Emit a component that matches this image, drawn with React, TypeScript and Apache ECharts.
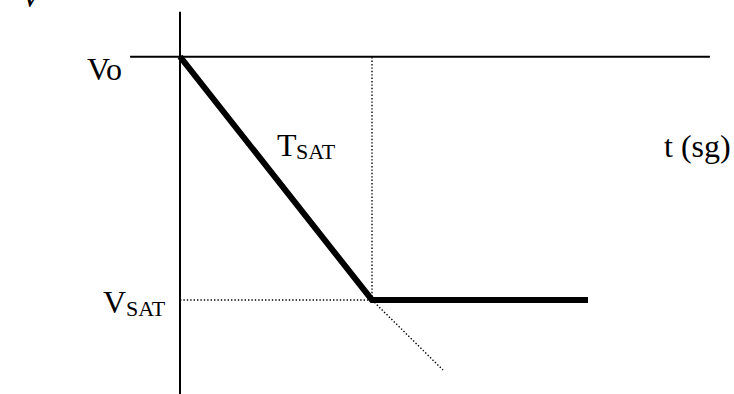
import React, { useEffect, useRef } from "react";
import * as echarts from "echarts";

// Time axis in units of T_SAT, voltage axis normalised so that V_SAT = 0 and Vo = 1
const T_SAT = 1;
const T_END = 2.125;
const V_O = 1;
const V_SAT = 0;

// thick curve: linear discharge then saturation plateau
const curveT = [0, T_SAT, T_END];
const curveV = [V_O, V_SAT, V_SAT];

// dotted extension of the ramp past saturation
const extT = [T_SAT, 1.37];
const extV = [V_SAT, -0.288];

// axes lines (drawn as series)
const vAxisT = [0, 0];
const vAxisV = [1.185, -0.39];
const hLineT = [-0.26, 2.76];
const hLineV = [V_O, V_O];

// dotted guides
const guideVT = [T_SAT, T_SAT];
const guideVV = [V_SAT, V_O];
const guideHT = [0, T_SAT];
const guideHV = [V_SAT, V_SAT];

const zip = (a: number[], b: number[]) => a.map((v, i) => [v, b[i]]);

const FONT = '"Liberation Serif", "Times New Roman", serif';

export default function App() {
  const ref = useRef<HTMLDivElement>(null);
  useEffect(() => {
    document.body.style.margin = "0";
    if (!ref.current) return;
    const chart = echarts.init(ref.current, undefined, { renderer: "svg" });
    const lineSeries = (data: number[][], width: number, type: any = "solid") => ({
      type: "line",
      data,
      showSymbol: false,
      symbol: "none",
      silent: true,
      clip: false,
      lineStyle: { color: "#000", width, type, join: "miter", cap: "butt" },
    });
    const txt = (text: string, x: number, y: number, size: number, italic = false) => ({
      type: "text",
      x,
      y,
      style: {
        text,
        fill: "#000",
        font: `${italic ? "italic " : ""}${size}px ${FONT}`,
        textVerticalAlign: "middle",
        verticalAlign: "middle",
      },
    });
    chart.setOption({
      animation: false,
      backgroundColor: "#fff",
      grid: { left: 0, right: 0, top: 0, bottom: 0 },
      xAxis: { type: "value", min: -0.9375, max: 2.8854, show: false },
      yAxis: { type: "value", min: -0.3864, max: 1.2329, show: false },
      series: [
        lineSeries(zip(vAxisT, vAxisV), 2),
        lineSeries(zip(hLineT, hLineV), 2),
        lineSeries(zip(guideVT, guideVV), 1.4, [1.4, 2]),
        lineSeries(zip(guideHT, guideHV), 1.4, [1.4, 2]),
        lineSeries(zip(extT, extV), 1.4, [1.4, 2]),
        lineSeries(zip(curveT, curveV), 6),
      ],
      graphic: [
        txt("V", 21, -4, 32, true),
        txt("Vo", 87, 69, 32),
        txt("T", 277, 145, 32),
        txt("SAT", 296, 151, 22),
        txt("t (sg)", 664, 146, 32),
        txt("V", 103, 302, 32),
        txt("SAT", 126, 308, 22),
      ],
    });
    return () => chart.dispose();
  }, []);
  return <div ref={ref} style={{ width: 734, height: 394 }} />;
}
